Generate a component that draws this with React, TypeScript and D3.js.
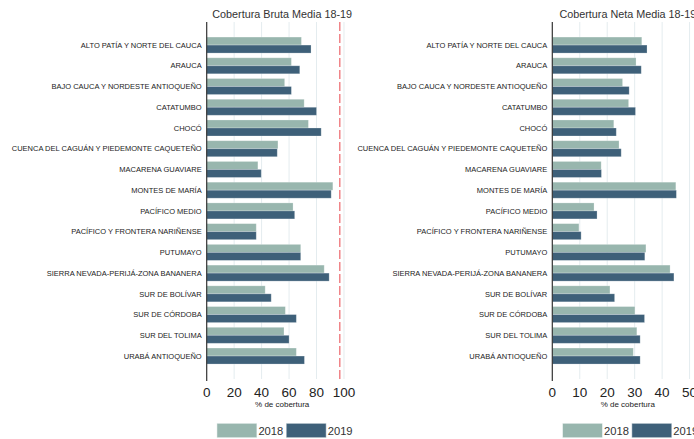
import React from 'react';
import * as d3 from 'd3';

const categories = [
  'ALTO PATÍA Y NORTE DEL CAUCA',
  'ARAUCA',
  'BAJO CAUCA Y NORDESTE ANTIOQUEÑO',
  'CATATUMBO',
  'CHOCÓ',
  'CUENCA DEL CAGUÁN Y PIEDEMONTE CAQUETEÑO',
  'MACARENA GUAVIARE',
  'MONTES DE MARÍA',
  'PACÍFICO MEDIO',
  'PACÍFICO Y FRONTERA NARIÑENSE',
  'PUTUMAYO',
  'SIERRA NEVADA-PERIJÁ-ZONA BANANERA',
  'SUR DE BOLÍVAR',
  'SUR DE CÓRDOBA',
  'SUR DEL TOLIMA',
  'URABÁ ANTIOQUEÑO',
];

const years = ['2018', '2019'];

// Cobertura bruta
const bruta2018 = [69, 61.7, 56.8, 71, 74.1, 51.9, 37.3, 91.9, 62.9, 36.1, 68.5, 85.6, 42.6, 57.3, 56.3, 65.3];
const bruta2019 = [76, 67.8, 61.7, 80, 83.4, 51.4, 39.7, 90.7, 64.1, 36.1, 68.5, 89.2, 47, 65.3, 60, 71.2];
const brutaTicks = [0, 20, 40, 60, 80, 100];
const brutaRef = 97;

// Cobertura neta
const neta2018 = [32.6, 30.5, 25.6, 27.8, 22.4, 24.3, 17.8, 45, 15.2, 9.7, 34.1, 42.9, 21, 30.1, 30.8, 29.5];
const neta2019 = [34.5, 32.4, 28, 30.3, 23.3, 25.1, 17.9, 45.2, 16.3, 10.5, 33.7, 44.3, 22.7, 33.6, 32, 32];
const netaTicks = [0, 10, 20, 30, 40, 50];

const colors: Record<string, string> = { '2018': '#98b6ae', '2019': '#3e6079' };
const FONT = '"Liberation Sans", Arial, sans-serif';

const TOP = 22;
const BOTTOM = 379;

interface PanelProps {
  title: string;
  x0: number;
  domainMax: number;
  series: number[][];
  ticks: number[];
  refLine?: number;
}

const Panel: React.FC<PanelProps> = ({ title, x0, domainMax, series, ticks, refLine }) => {
  const x = d3.scaleLinear().domain([0, domainMax]).range([x0, x0 + 151]);
  const y = d3.scaleBand<string>().domain(categories).range([TOP + 12.7, BOTTOM - 12.6]);
  const inner = d3.scaleBand<string>().domain(years).range([0, y.bandwidth()]).paddingOuter(0.295);
  const cx = (x.range()[0] + x.range()[1]) / 2;

  return (
    <g>
      <text x={cx} y={17.5} textAnchor="middle" fontSize={10.8} fill="#333" fontFamily={FONT}>{title}</text>
      {ticks.filter(t => t > 0).map(t => (
        <line key={t} x1={x(t)} x2={x(t)} y1={TOP} y2={BOTTOM} stroke="#e4ecef" strokeWidth={1} />
      ))}
      {refLine !== undefined && (
        <line x1={x(refLine)} x2={x(refLine)} y1={TOP} y2={BOTTOM} stroke="#e8464b" strokeWidth={1} strokeDasharray="9,3" />
      )}
      {categories.map((c, i) => (
        <g key={c} transform={`translate(0,${y(c)})`}>
          {years.map((yr, k) => (
            <rect key={yr} x={x(0)} y={inner(yr)} width={x(series[k][i]) - x(0)} height={inner.bandwidth()}
              fill={colors[yr]} stroke="#ffffff" strokeOpacity={0.3} strokeWidth={0.8} />
          ))}
          <text x={x(0) - 5} y={y.bandwidth() / 2 + 2.7} textAnchor="end" fontSize={7.5} fill="#222" fontFamily={FONT}>{c}</text>
        </g>
      ))}
      <line x1={x(0)} x2={x(0)} y1={TOP} y2={BOTTOM + 2} stroke="#333" strokeWidth={1.2} />
      {ticks.map(t => (
        <text key={t} x={x(t)} y={396.5} textAnchor="middle" fontSize={13.5} fill="#222" fontFamily={FONT}>{t}</text>
      ))}
      <text x={cx} y={407} textAnchor="middle" fontSize={8} fill="#222" fontFamily={FONT}>% de cobertura</text>
      {years.map((yr, k) => (
        <g key={yr} transform={`translate(${cx - 65.3 + k * 69.3},0)`}>
          <rect x={0} y={423.3} width={40} height={14.4} fill={colors[yr]} stroke="#ffffff" strokeOpacity={0.5} />
          <text x={41.5} y={434.5} fontSize={11.2} fill="#333" fontFamily={FONT}>{yr}</text>
        </g>
      ))}
    </g>
  );
};

export default function App() {
  return (
    <svg width={694} height={439} style={{ position: 'absolute', left: 0, top: 0, background: '#fff' }}>
      <rect width={694} height={439} fill="#fff" />
      <Panel title="Cobertura Bruta Media 18-19" x0={206.7} domainMax={110} series={[bruta2018, bruta2019]}
        ticks={brutaTicks} refLine={brutaRef} />
      <Panel title="Cobertura Neta Media 18-19" x0={552.3} domainMax={55} series={[neta2018, neta2019]}
        ticks={netaTicks} />
    </svg>
  );
}
